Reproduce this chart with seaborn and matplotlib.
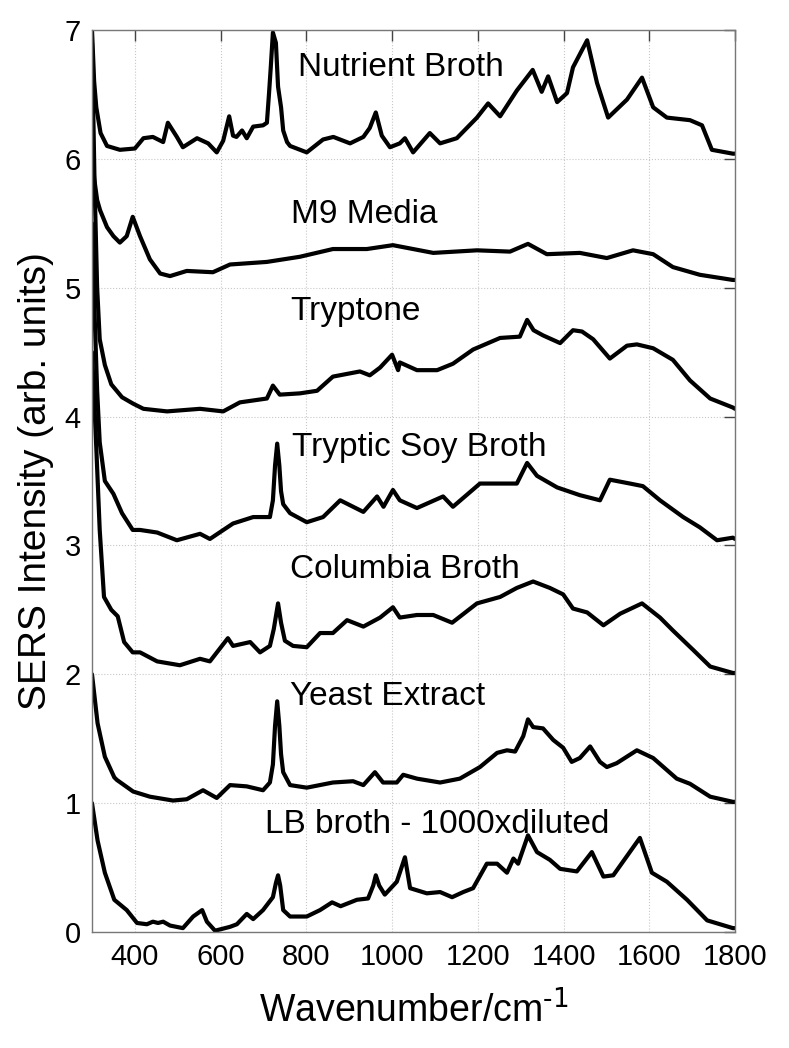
import matplotlib
matplotlib.use('Agg')
import matplotlib.pyplot as plt
import seaborn as sns
import pandas as pd

sns.set_theme(style='white')
plt.rcParams['font.family'] = ['Liberation Sans', 'DejaVu Sans']
plt.rcParams['mathtext.default'] = 'regular'
plt.rcParams['text.color'] = 'black'
plt.rcParams['axes.labelcolor'] = 'black'
plt.rcParams['xtick.color'] = 'black'
plt.rcParams['ytick.color'] = 'black'

# ---------------------------------------------------------------
# spectra (wavenumber, offset intensity)
# ---------------------------------------------------------------
nb_x = [300, 305, 310, 320, 335, 365, 400, 420, 442, 466, 477, 498, 512, 545, 571, 591, 606, 620, 629,
        637, 650, 661, 676, 699, 708, 713, 717, 722, 729, 734, 741, 746, 755, 762, 801, 839, 863, 902,
        933, 948, 962, 976, 995, 1018, 1030, 1049, 1088, 1112, 1151, 1198, 1224, 1252, 1291, 1328,
        1349, 1364, 1385, 1408, 1422, 1455, 1478, 1504, 1548, 1583, 1609, 1641, 1695, 1723, 1746,
        1795, 1800]
nb_y = [7.0, 6.6, 6.4, 6.2, 6.1, 6.07, 6.08, 6.16, 6.17, 6.13, 6.28, 6.17, 6.09, 6.16, 6.12, 6.05, 6.14,
        6.33, 6.18, 6.17, 6.22, 6.16, 6.25, 6.26, 6.28, 6.51, 6.71, 6.98, 6.90, 6.56, 6.40, 6.22, 6.13,
        6.10, 6.05, 6.15, 6.17, 6.12, 6.17, 6.24, 6.36, 6.18, 6.09, 6.12, 6.16, 6.05, 6.20, 6.12, 6.16,
        6.32, 6.43, 6.33, 6.53, 6.69, 6.52, 6.64, 6.44, 6.51, 6.71, 6.92, 6.59, 6.32, 6.46, 6.63, 6.40,
        6.32, 6.30, 6.26, 6.07, 6.04, 6.04]

m9_x = [300, 305, 312, 319, 335, 350, 365, 381, 395, 412, 435, 459, 482, 521, 582, 622, 708, 785, 862,
        941, 1002, 1096, 1198, 1275, 1317, 1361, 1438, 1501, 1562, 1609, 1655, 1718, 1795, 1800]
m9_y = [6.1, 5.85, 5.68, 5.6, 5.47, 5.40, 5.35, 5.40, 5.55, 5.40, 5.22, 5.11, 5.09, 5.13, 5.12, 5.18,
        5.20, 5.24, 5.30, 5.30, 5.33, 5.27, 5.29, 5.28, 5.34, 5.26, 5.27, 5.23, 5.29, 5.26, 5.16, 5.10,
        5.06, 5.06]

tr_x = [300, 306, 312, 318, 330, 345, 370, 396, 420, 475, 552, 606, 645, 708, 722, 738, 785, 825, 862,
        925, 948, 972, 1000, 1014, 1018, 1058, 1105, 1142, 1189, 1252, 1298, 1315, 1330, 1352, 1392,
        1422, 1443, 1469, 1508, 1548, 1571, 1609, 1655, 1695, 1742, 1795, 1800]
tr_y = [6.9, 5.8, 5.0, 4.6, 4.4, 4.25, 4.15, 4.10, 4.06, 4.04, 4.06, 4.04, 4.11, 4.14, 4.24, 4.17, 4.18,
        4.20, 4.31, 4.35, 4.32, 4.38, 4.48, 4.36, 4.42, 4.36, 4.36, 4.41, 4.52, 4.61, 4.62, 4.75, 4.67,
        4.63, 4.57, 4.67, 4.66, 4.60, 4.45, 4.55, 4.56, 4.53, 4.44, 4.28, 4.14, 4.07, 4.06]

ts_x = [300, 306, 312, 318, 330, 350, 370, 395, 412, 452, 498, 552, 575, 629, 676, 715, 722, 727, 732,
        737, 741, 746, 762, 801, 839, 879, 909, 933, 965, 980, 1002, 1018, 1058, 1119, 1142, 1205,
        1252, 1291, 1315, 1338, 1385, 1438, 1485, 1508, 1555, 1585, 1625, 1679, 1718, 1758, 1795, 1800]
ts_y = [5.5, 4.8, 4.2, 3.8, 3.5, 3.4, 3.25, 3.12, 3.12, 3.10, 3.04, 3.09, 3.05, 3.17, 3.22, 3.22, 3.35,
        3.62, 3.79, 3.62, 3.42, 3.32, 3.25, 3.18, 3.22, 3.35, 3.30, 3.26, 3.38, 3.30, 3.43, 3.35, 3.29,
        3.38, 3.30, 3.48, 3.48, 3.48, 3.64, 3.54, 3.45, 3.39, 3.35, 3.51, 3.48, 3.46, 3.35, 3.22, 3.14,
        3.04, 3.06, 3.05]

cb_x = [300, 310, 318, 328, 345, 360, 375, 395, 412, 452, 505, 552, 575, 617, 629, 669, 692, 715, 724,
        734, 741, 750, 769, 801, 832, 862, 895, 933, 972, 1002, 1018, 1058, 1096, 1140, 1198, 1252,
        1291, 1329, 1368, 1399, 1422, 1455, 1493, 1532, 1583, 1625, 1655, 1702, 1742, 1795, 1800]
cb_y = [4.5, 3.76, 3.12, 2.60, 2.50, 2.45, 2.25, 2.17, 2.17, 2.10, 2.07, 2.12, 2.10, 2.28, 2.22, 2.25,
        2.17, 2.22, 2.35, 2.55, 2.40, 2.26, 2.22, 2.21, 2.32, 2.32, 2.42, 2.37, 2.44, 2.52, 2.44, 2.46,
        2.46, 2.40, 2.55, 2.60, 2.67, 2.72, 2.67, 2.62, 2.51, 2.48, 2.38, 2.47, 2.55, 2.44, 2.34, 2.19,
        2.06, 2.01, 2.01]

ye_x = [300, 313, 330, 352, 358, 396, 435, 489, 521, 559, 591, 622, 661, 699, 715, 722, 727, 732, 737,
        741, 746, 762, 801, 862, 909, 933, 960, 979, 1011, 1026, 1058, 1112, 1158, 1205, 1245, 1268,
        1287, 1306, 1317, 1329, 1352, 1376, 1399, 1419, 1438, 1462, 1485, 1501, 1524, 1571, 1609,
        1664, 1695, 1742, 1795, 1800]
ye_y = [2.0, 1.62, 1.36, 1.2, 1.18, 1.09, 1.05, 1.02, 1.03, 1.10, 1.04, 1.14, 1.13, 1.10, 1.16, 1.30,
        1.60, 1.79, 1.60, 1.38, 1.24, 1.14, 1.12, 1.16, 1.17, 1.14, 1.24, 1.16, 1.16, 1.22, 1.19, 1.16,
        1.19, 1.28, 1.39, 1.41, 1.40, 1.52, 1.65, 1.59, 1.58, 1.49, 1.43, 1.32, 1.35, 1.44, 1.32, 1.28,
        1.31, 1.41, 1.35, 1.19, 1.15, 1.05, 1.01, 1.01]

lb_x = [300, 313, 330, 352, 381, 405, 428, 442, 454, 466, 482, 512, 536, 557, 568, 587, 622, 638, 661,
        676, 699, 722, 729, 734, 739, 746, 762, 801, 832, 860, 880, 918, 944, 956, 962, 970, 983, 1011,
        1030, 1042, 1081, 1112, 1140, 1166, 1189, 1221, 1245, 1268, 1283, 1294, 1317, 1338, 1368,
        1392, 1431, 1466, 1493, 1516, 1578, 1606, 1641, 1688, 1735, 1795, 1800]
lb_y = [1.0, 0.71, 0.46, 0.25, 0.17, 0.07, 0.06, 0.08, 0.07, 0.08, 0.05, 0.03, 0.12, 0.17, 0.08, 0.01,
        0.04, 0.06, 0.14, 0.10, 0.17, 0.27, 0.38, 0.44, 0.36, 0.17, 0.12, 0.12, 0.17, 0.23, 0.20, 0.25,
        0.26, 0.36, 0.44, 0.36, 0.29, 0.39, 0.58, 0.34, 0.30, 0.31, 0.27, 0.31, 0.34, 0.53, 0.53, 0.46,
        0.57, 0.53, 0.75, 0.62, 0.56, 0.49, 0.47, 0.62, 0.43, 0.44, 0.73, 0.46, 0.39, 0.25, 0.09, 0.03,
        0.03]

labels = ['Nutrient Broth', 'M9 Media', 'Tryptone', 'Tryptic Soy Broth',
          'Columbia Broth', 'Yeast Extract', 'LB broth - 1000xdiluted']
label_x = [780, 764, 762, 766, 762, 762, 704]
label_y = [6.64, 5.50, 4.75, 3.69, 2.75, 1.76, 0.77]

series = [(nb_x, nb_y), (m9_x, m9_y), (tr_x, tr_y), (ts_x, ts_y),
          (cb_x, cb_y), (ye_x, ye_y), (lb_x, lb_y)]

fig = plt.figure(figsize=(7.89, 10.48), dpi=100)
ax = fig.add_axes([0.1166, 0.1107, 0.8150, 0.8607])

for (xs, ys), name in zip(series, labels):
    df = pd.DataFrame({'x': xs, 'y': ys})
    sns.lineplot(data=df, x='x', y='y', ax=ax, color='black', lw=3.0, sort=False,
                 solid_joinstyle='round', solid_capstyle='round')

for name, tx, ty in zip(labels, label_x, label_y):
    ax.text(tx, ty, name, fontsize=24, va='baseline', ha='left', color='black')

ax.set_xlim(300, 1800)
ax.set_ylim(0, 7)
ax.set_xticks([400, 600, 800, 1000, 1200, 1400, 1600, 1800])
ax.set_yticks(range(0, 8))
ax.grid(True, ls=':', color='#c8c8c8', lw=0.8)
ax.tick_params(direction='in', length=8, width=1, labelsize=21, top=True, right=True,
               color='#444444', pad=8)
for s in ax.spines.values():
    s.set_color('#777777')
    s.set_linewidth(1.0)

ax.set_xlabel(r'Wavenumber/cm$^{\text{-1}}$', fontsize=27, labelpad=14)
ax.set_ylabel('SERS Intensity (arb. units)', fontsize=28, labelpad=8)

fig.savefig('out.png', dpi=100)
